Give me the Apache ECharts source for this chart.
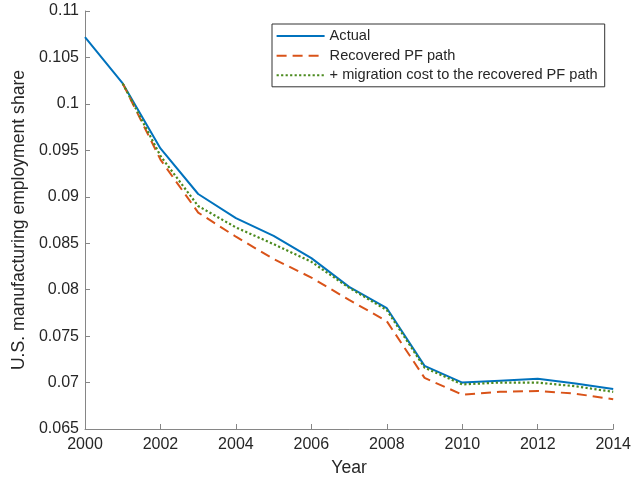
<!DOCTYPE html>
<html>
<head>
<meta charset="utf-8">
<script src="https://cdn.jsdelivr.net/npm/echarts@6/dist/echarts.min.js"></script>
<style>html,body{margin:0;padding:0;background:#fff}#c{width:634px;height:482px}</style>
</head>
<body>
<div id="c"></div>
<script>
var years = [2000, 2001, 2002, 2003, 2004, 2005, 2006, 2007, 2008, 2009, 2010, 2011, 2012, 2013, 2014];
var actual = [0.1072, 0.1022, 0.0952, 0.0903, 0.0877, 0.0858, 0.0834, 0.0803, 0.0780, 0.0718, 0.0700, 0.0702, 0.0704, 0.0699, 0.0693];
var recovered = [null, 0.1022, 0.0940, 0.0883, 0.0857, 0.0833, 0.0813, 0.0789, 0.0766, 0.0705, 0.0687, 0.0690, 0.0691, 0.0688, 0.0682];
var migration = [null, 0.1022, 0.0944, 0.0890, 0.0867, 0.0849, 0.0830, 0.0802, 0.0778, 0.0716, 0.0698, 0.0700, 0.0700, 0.0696, 0.0690];
var seriesNames = ['Actual', 'Recovered PF path', '+ migration cost to the recovered PF path'];
var xTicks = { min: 2000, max: 2014, step: 2 };
var yTicks = { min: 0.065, max: 0.11, step: 0.005 };

function pairs(vals) {
  return years.map(function (y, i) { return [y, vals[i]]; });
}
var font = 'Liberation Sans, Arial, Helvetica, sans-serif';
var axisColor = '#868686';
var textColor = '#262626';

var chart = echarts.init(document.getElementById('c'), null, { renderer: 'canvas' });
chart.setOption({
  animation: false,
  backgroundColor: '#fff',
  grid: { left: 85, right: 17, top: 11, bottom: 51, containLabel: false },
  legend: {
    left: 272, top: 24,
    orient: 'vertical',
    itemWidth: 48, itemHeight: 14, itemGap: 4.6,
    padding: [4.6, 7, 4, 3.6],
    borderColor: '#333', borderWidth: 1, borderRadius: 0,
    backgroundColor: '#fff',
    itemStyle: { opacity: 0 },
    textStyle: { fontFamily: font, fontSize: 14.6, color: textColor },
    data: seriesNames
  },
  xAxis: {
    type: 'value', min: xTicks.min, max: xTicks.max, interval: xTicks.step,
    name: 'Year', nameLocation: 'middle', nameGap: 30,
    nameTextStyle: { fontFamily: font, fontSize: 17.6, color: textColor },
    axisLine: { show: true, lineStyle: { color: axisColor, width: 1 } },
    axisTick: { show: true, inside: true, length: 5, lineStyle: { color: axisColor } },
    axisLabel: { fontFamily: font, fontSize: 16, color: textColor, margin: 8,
      formatter: function (v) { return String(v); } },
    splitLine: { show: false }
  },
  yAxis: {
    type: 'value', min: yTicks.min, max: yTicks.max, interval: yTicks.step,
    name: 'U.S. manufacturing employment share', nameLocation: 'middle', nameGap: 51,
    nameTextStyle: { fontFamily: font, fontSize: 17.6, color: textColor },
    axisLine: { show: true, lineStyle: { color: axisColor, width: 1 } },
    axisTick: { show: true, inside: true, length: 5, lineStyle: { color: axisColor } },
    axisLabel: { fontFamily: font, fontSize: 16, color: textColor, margin: 6,
      formatter: function (v) { return String(parseFloat(v.toFixed(4))); } },
    splitLine: { show: false }
  },
  series: [
    { name: seriesNames[0], type: 'line', data: pairs(actual), symbol: 'none', z: 2,
      color: '#0072BD', lineStyle: { color: '#0072BD', width: 2 } },
    { name: seriesNames[1], type: 'line', data: pairs(recovered), symbol: 'none', z: 3,
      color: '#D95319', lineStyle: { color: '#D95319', width: 2, type: [10, 6], cap: 'butt' } },
    { name: seriesNames[2], type: 'line', data: pairs(migration), symbol: 'none', z: 4,
      color: '#4B8A1E', lineStyle: { color: '#4B8A1E', width: 2.2, type: [2.2, 2.3], cap: 'butt' } }
  ]
});
</script>
</body>
</html>
